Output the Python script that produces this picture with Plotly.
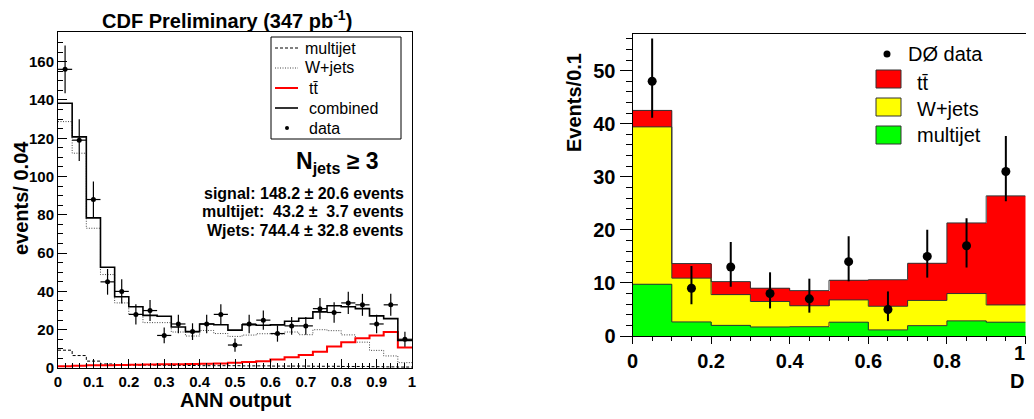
import plotly.graph_objects as go

# ---------------- Left panel (CDF) data ----------------
ann_edges = [round(i * 0.04, 2) for i in range(26)]
ann_centers = [round(0.02 + i * 0.04, 2) for i in range(25)]
cdf_data = [156, 119, 88, 45, 40, 28, 30, 17, 23, 19, 23, 28, 12, 23, 25, 18, 22, 22, 31, 29, 34, 33, 23, 33, 15]
cdf_combined = [138.3, 120.7, 78.4, 52.6, 37.2, 32.0, 27.5, 27.0, 21.4, 19.0, 23.0, 22.6, 19.8,
                22.6, 22.3, 22.5, 24.4, 26.0, 29.3, 32.5, 32.0, 31.0, 27.2, 25.8, 14.4]
cdf_wjets = [128.7, 112.2, 73.0, 48.8, 34.0, 28.0, 23.7, 23.7, 18.8, 16.7, 19.6, 18.0, 16.5,
             17.2, 17.9, 17.7, 18.8, 17.4, 20.0, 19.5, 17.3, 13.5, 9.2, 6.3, 2.8]
cdf_multijet = [9.3, 6.5, 3.6, 2.1, 1.8, 1.5, 1.5, 1.4, 1.3, 1.3, 1.2, 1.2, 1.2,
                1.1, 1.1, 1.0, 1.0, 1.0, 0.9, 0.9, 0.8, 0.8, 0.7, 0.6, 0.5]
cdf_ttbar = [0.9, 1.2, 1.4, 1.5, 1.6, 1.7, 1.8, 1.9, 2.0, 2.1, 2.2, 2.4, 2.7,
             3.1, 3.5, 4.5, 5.6, 6.8, 8.5, 11.2, 13.5, 15.6, 17.0, 18.8, 10.7]

# ---------------- Right panel (D0) data ----------------
d_edges = [round(i * 0.1, 1) for i in range(11)]
d_centers = [round(0.05 + i * 0.1, 2) for i in range(10)]
d0_data = [48, 9, 13, 8, 7, 14, 5, 15, 17, 31]
d0_err_up = [8.05, 4.2, 4.7, 4.0, 3.8, 4.8, 3.4, 5.0, 5.2, 6.7]
d0_err_down = [6.9, 3.0, 3.7, 2.8, 2.6, 3.7, 2.2, 4.0, 4.1, 5.6]
d0_multijet = [9.75, 2.65, 2.0, 1.7, 1.75, 2.6, 1.15, 1.95, 2.85, 2.6]
d0_wjets = [29.65, 8.25, 5.8, 4.8, 3.95, 4.2, 4.45, 4.75, 5.15, 3.25]
d0_ttbar = [3.1, 2.75, 2.45, 2.5, 2.85, 3.7, 5.0, 7.0, 13.3, 20.55]
d_tickvals = [0, 0.2, 0.4, 0.6, 0.8, 1]
d_ticktext = ["0", "0.2", "0.4", "0.6", "0.8", ""]

FONT = "Liberation Sans, Arial, Helvetica, sans-serif"
TTBAR = "t t\u0304".replace(" ", "")
fig = go.Figure()


def step(vals):
    return list(vals) + [vals[-1]]


# Page body has an 8px margin; figure is sized to fit inside the window without scrollbars.
OFF = 8
W, H = 1034 - 2 * OFF, 419 - 2 * OFF


def px(x):
    return (x - OFF) / W


def py(y):
    return (H - (y - OFF)) / H


# ---- Left panel histograms ----
ls_multijet = dict(color="black", width=1, dash="3px,2px")
ls_wjets = dict(color="#444", width=1, dash="1px,1.5px")
ls_ttbar = dict(color="#ff0000", width=2)
ls_comb = dict(color="black", width=1.6)

fig.add_trace(go.Scatter(x=ann_edges, y=step(cdf_multijet), mode="lines", line_shape="hv",
                         line=ls_multijet, name="multijet", showlegend=False, xaxis="x", yaxis="y"))
fig.add_trace(go.Scatter(x=ann_edges, y=step(cdf_wjets), mode="lines", line_shape="hv",
                         line=ls_wjets, name="W+jets", showlegend=False, xaxis="x", yaxis="y"))
fig.add_trace(go.Scatter(x=ann_edges, y=step(cdf_ttbar), mode="lines", line_shape="hv",
                         line=ls_ttbar, name=TTBAR, showlegend=False, xaxis="x", yaxis="y"))
fig.add_trace(go.Scatter(x=ann_edges, y=step(cdf_combined), mode="lines", line_shape="hv",
                         line=ls_comb, name="combined", showlegend=False, xaxis="x", yaxis="y"))
fig.add_trace(go.Scatter(x=ann_centers, y=cdf_data, mode="markers", name="data", showlegend=False,
                         marker=dict(color="black", size=5, symbol="circle"),
                         error_y=dict(type="data", array=[v ** 0.5 for v in cdf_data],
                                      color="black", thickness=1.2, width=0),
                         error_x=dict(type="constant", value=0.02, color="black", thickness=1.2, width=0),
                         xaxis="x", yaxis="y"))

# ---- Right panel stacked histograms (fills; outlines drawn as steps) ----
C_GREEN, C_YELLOW, C_RED = "#00ff00", "#ffff00", "#ff0000"
fig.add_trace(go.Bar(x=d_centers, y=d0_multijet, width=0.1, name="multijet", showlegend=False,
                     marker=dict(color=C_GREEN, line=dict(width=0)), xaxis="x2", yaxis="y2"))
fig.add_trace(go.Bar(x=d_centers, y=d0_wjets, width=0.1, name="W+jets", showlegend=False,
                     marker=dict(color=C_YELLOW, line=dict(width=0)), xaxis="x2", yaxis="y2"))
fig.add_trace(go.Bar(x=d_centers, y=d0_ttbar, width=0.1, name=TTBAR, showlegend=False,
                     marker=dict(color=C_RED, line=dict(width=0)), xaxis="x2", yaxis="y2"))

cum1 = d0_multijet
cum2 = [a + b for a, b in zip(d0_multijet, d0_wjets)]
cum3 = [a + b for a, b in zip(cum2, d0_ttbar)]
for cum in (cum1, cum2, cum3):
    fig.add_trace(go.Scatter(x=d_edges, y=step(cum), mode="lines", line_shape="hv",
                             line=dict(color="#333", width=1), showlegend=False,
                             hoverinfo="skip", xaxis="x2", yaxis="y2"))

fig.add_trace(go.Scatter(x=d_centers, y=d0_data, mode="markers", name="D\u00d8 data", showlegend=False,
                         marker=dict(color="black", size=9),
                         error_y=dict(type="data", array=d0_err_up, arrayminus=d0_err_down,
                                      symmetric=False, color="black", thickness=2, width=0),
                         xaxis="x2", yaxis="y2"))

axis_common = dict(showgrid=False, zeroline=False, showline=True, mirror=True,
                   linecolor="black", linewidth=1, tickcolor="black", automargin=False)

fig.update_layout(
    width=W, height=H, margin=dict(l=0, r=0, t=0, b=0, autoexpand=False),
    paper_bgcolor="white", plot_bgcolor="white",
    barmode="stack", bargap=0, showlegend=False,
    font=dict(family=FONT, color="black"),
    xaxis=dict(domain=[px(58), px(412)], range=[0, 1], dtick=0.1, tick0=0, ticks="inside", ticklen=9,
               minor=dict(dtick=0.02, ticklen=5, ticks="inside", tickcolor="black"),
               tickfont=dict(size=15, weight=700, family=FONT), anchor="y", **axis_common),
    yaxis=dict(domain=[py(368), py(32)], range=[0, 175.5], dtick=20, tick0=0, ticks="inside", ticklen=9,
               minor=dict(dtick=5, ticklen=5, ticks="inside", tickcolor="black"),
               tickfont=dict(size=15, weight=700, family=FONT), anchor="x", **axis_common),
    xaxis2=dict(domain=[px(632.5), px(1025.5)], range=[0, 1], tickmode="array",
                tickvals=d_tickvals, ticktext=d_ticktext, ticks="outside", ticklen=7,
                minor=dict(dtick=0.05, tick0=0, ticklen=4, ticks="outside", tickcolor="black"),
                tickfont=dict(size=20, weight=700, family=FONT), anchor="y2", **axis_common),
    yaxis2=dict(domain=[py(336), py(34)], range=[0, 56.9], dtick=10, tick0=0, ticks="outside", ticklen=12,
                minor=dict(dtick=2, ticklen=6, ticks="outside", tickcolor="black"),
                tickfont=dict(size=20, weight=700, family=FONT), anchor="x2", **axis_common),
)


def label(text, x, y, size, bold=True, angle=0, xanchor="center"):
    fig.add_annotation(text=text, x=px(x), y=py(y), xref="paper", yref="paper",
                       xanchor=xanchor, yanchor="middle", showarrow=False, textangle=angle,
                       font=dict(size=size, family=FONT, weight=700 if bold else 400))


label("CDF Preliminary (347 pb<sup>-1</sup>)", 227, 19, 20)
label("ANN output", 235, 400, 20)
label("events/ 0.04", 21, 198, 20, angle=-90)
label("N<sub>jets</sub> \u2265 3", 337, 162, 23)
label("Events/0.1", 574, 103, 20, angle=-90)
label("D", 1017, 381, 20)

# last x tick label of the right panel, kept inside the window edge
fig.add_annotation(text="1", x=1, xref="x2", y=py(353), yref="paper", xanchor="right",
                   yanchor="middle", showarrow=False, xshift=1,
                   font=dict(size=20, family=FONT, weight=700))

stats = ["signal: 148.2 \u00b1 20.6 events",
         "multijet:\u00a0\u00a043.2 \u00b1\u00a0\u00a03.7 events",
         "Wjets: 744.4 \u00b1 32.8 events"]
for s, yy in zip(stats, [193, 211, 230]):
    fig.add_annotation(text=s, x=px(406), y=py(yy), xref="paper", yref="paper",
                       xanchor="right", yanchor="middle", showarrow=False,
                       font=dict(size=16, family=FONT, weight=700))

# ---- Left legend (ROOT-style box) ----
shapes = [dict(type="rect", xref="paper", yref="paper", x0=px(271), x1=px(401), y0=py(139), y1=py(37),
               line=dict(color="black", width=1), fillcolor="white", layer="above")]
left_entries = [("multijet", ls_multijet, 48, 303), ("W+jets", ls_wjets, 68, 303),
                (TTBAR, ls_ttbar, 88, 307), ("combined", ls_comb, 108, 307)]
for name, ls, yy, tx in left_entries:
    shapes.append(dict(type="line", xref="paper", yref="paper", x0=px(275), x1=px(298),
                       y0=py(yy), y1=py(yy), line=ls, layer="above"))
    label(name, tx, yy, 16, bold=False, xanchor="left")
shapes.append(dict(type="circle", xref="paper", yref="paper", x0=px(285), x1=px(289),
                   y0=py(130), y1=py(126), fillcolor="black", line=dict(width=0), layer="above"))
label("data", 307, 128, 16, bold=False, xanchor="left")

# ---- Right legend (no border) ----
shapes.append(dict(type="circle", xref="paper", yref="paper", x0=px(883.5), x1=px(890.5),
                   y0=py(57.5), y1=py(50.5), fillcolor="black", line=dict(width=0), layer="above"))
label("D\u00d8 data", 906, 54, 20, bold=False, xanchor="left")
right_entries = [(TTBAR, C_RED, 70, 88, 83), ("W+jets", C_YELLOW, 98, 116, 109),
                 ("multijet", C_GREEN, 126, 144, 135)]
for name, col, y0, y1, ty in right_entries:
    shapes.append(dict(type="rect", xref="paper", yref="paper", x0=px(876), x1=px(901),
                       y0=py(y1), y1=py(y0), fillcolor=col, line=dict(color="#333", width=1),
                       layer="above"))
    label(name, 915, ty, 20, bold=False, xanchor="left")

fig.update_layout(shapes=shapes)

fig.write_html("out.html")
